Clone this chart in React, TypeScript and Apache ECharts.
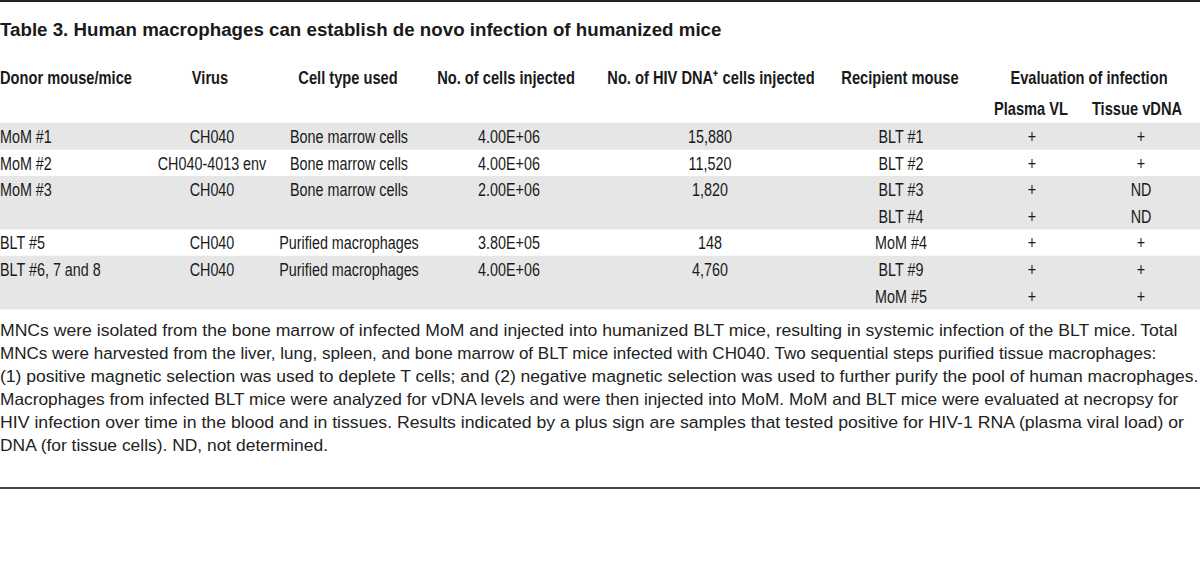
import React, { useEffect, useRef } from "react";
import * as echarts from "echarts";

const title = "Table 3. Human macrophages can establish de novo infection of humanized mice";
const headers = [
  "Donor mouse/mice",
  "Virus",
  "Cell type used",
  "No. of cells injected",
  "No. of HIV DNA\u207A cells injected",
  "Recipient mouse",
];
const groupHeader = "Evaluation of infection";
const subHeaders = ["Plasma VL", "Tissue vDNA"];

const donor = ["MoM #1", "MoM #2", "MoM #3", "", "BLT #5", "BLT #6, 7 and 8", ""];
const virus = ["CH040", "CH040-4013 env", "CH040", "", "CH040", "CH040", ""];
const cellType = [
  "Bone marrow cells",
  "Bone marrow cells",
  "Bone marrow cells",
  "",
  "Purified macrophages",
  "Purified macrophages",
  "",
];
const cellsInjected = ["4.00E+06", "4.00E+06", "2.00E+06", "", "3.80E+05", "4.00E+06", ""];
const hivCells = ["15,880", "11,520", "1,820", "", "148", "4,760", ""];
const recipient = ["BLT #1", "BLT #2", "BLT #3", "BLT #4", "MoM #4", "BLT #9", "MoM #5"];
const plasmaVL = ["+", "+", "+", "+", "+", "+", "+"];
const tissueVDNA = ["+", "+", "ND", "ND", "+", "+", "+"];
const rowShaded = [true, false, true, true, false, true, true];

const footnote = [
  "MNCs were isolated from the bone marrow of infected MoM and injected into humanized BLT mice, resulting in systemic infection of the BLT mice. Total",
  "MNCs were harvested from the liver, lung, spleen, and bone marrow of BLT mice infected with CH040. Two sequential steps purified tissue macrophages:",
  "(1) positive magnetic selection was used to deplete T cells; and (2) negative magnetic selection was used to further purify the pool of human macrophages.",
  "Macrophages from infected BLT mice were analyzed for vDNA levels and were then injected into MoM. MoM and BLT mice were evaluated at necropsy for",
  "HIV infection over time in the blood and in tissues. Results indicated by a plus sign are samples that tested positive for HIV-1 RNA (plasma viral load) or",
  "DNA (for tissue cells). ND, not determined.",
];
// horizontal stretch per footnote line, to match the reference's line lengths
const footnoteStretch = [1.067, 1.033, 1.061, 1.048, 1.072, 1.056];

const FONT = "'Liberation Sans', Arial, sans-serif";
const INK = "#1a1a1a";

function txt(text: string, x: number, y: number, opts: any = {}) {
  const align = opts.align || "center";
  return {
    type: "text",
    x,
    y,
    scaleX: opts.scaleX || 1,
    silent: true,
    style: {
      text,
      fill: opts.fill || INK,
      fontSize: opts.fontSize || 17.5,
      fontFamily: FONT,
      fontWeight: opts.fontWeight || "normal",
      align,
      textAlign: align,
      verticalAlign: "middle",
      textVerticalAlign: "middle",
    },
  };
}

export default function App() {
  const ref = useRef<HTMLDivElement>(null);
  useEffect(() => {
    if (!ref.current) return;
    const chart = echarts.init(ref.current, undefined, { renderer: "svg" });
    const els: any[] = [];
    // top rule
    els.push({ type: "rect", shape: { x: 0, y: 0, width: 1200, height: 2 }, style: { fill: "#222" }, silent: true });
    // title
    els.push(txt(title, 0, 30, { align: "left", fontWeight: "bold", fontSize: 18, scaleX: 1.04 }));
    // headers
    const hs = { fontWeight: "bold", fontSize: 18, scaleX: 0.815 };
    const headerX = [0, 210, 348, 506, 711, 900];
    headers.forEach((h, i) => {
      els.push(txt(h, headerX[i], 77, { ...hs, align: i === 0 ? "left" : "center" }));
    });
    els.push(txt(groupHeader, 1089, 77, hs));
    els.push(txt(subHeaders[0], 1031, 108, hs));
    els.push(txt(subHeaders[1], 1137, 108, hs));
    // rows
    const rowTop = 122.7;
    const rowH = 26.6;
    rowShaded.forEach((s, i) => {
      if (s) {
        els.push({
          type: "rect",
          shape: { x: 0, y: rowTop + i * rowH, width: 1200, height: rowH + 0.5 },
          style: { fill: "#e6e6e6" },
          silent: true,
        });
      }
    });
    const colX = [0, 212, 349, 509, 710, 901, 1032, 1141];
    const cols = [donor, virus, cellType, cellsInjected, hivCells, recipient, plasmaVL, tissueVDNA];
    cols.forEach((col, c) => {
      col.forEach((v, r) => {
        if (!v) return;
        els.push(
          txt(v, colX[c], rowTop + r * rowH + rowH / 2 + 1, {
            align: c === 0 ? "left" : "center",
            fontSize: 17.5,
            scaleX: 0.82,
          })
        );
      });
    });
    // footnote
    footnote.forEach((line, i) => {
      els.push(
        txt(line, 0, 331 + i * 23, { align: "left", fontSize: 16.5, scaleX: footnoteStretch[i], fill: "#222" })
      );
    });
    // bottom rule
    els.push({ type: "rect", shape: { x: 0, y: 487, width: 1200, height: 2 }, style: { fill: "#444" }, silent: true });

    chart.setOption({ animation: false, backgroundColor: "#ffffff", graphic: { elements: els } });
    return () => chart.dispose();
  }, []);
  return <div ref={ref} style={{ position: "fixed", left: 0, top: 0, width: 1200, height: 567 }} />;
}
